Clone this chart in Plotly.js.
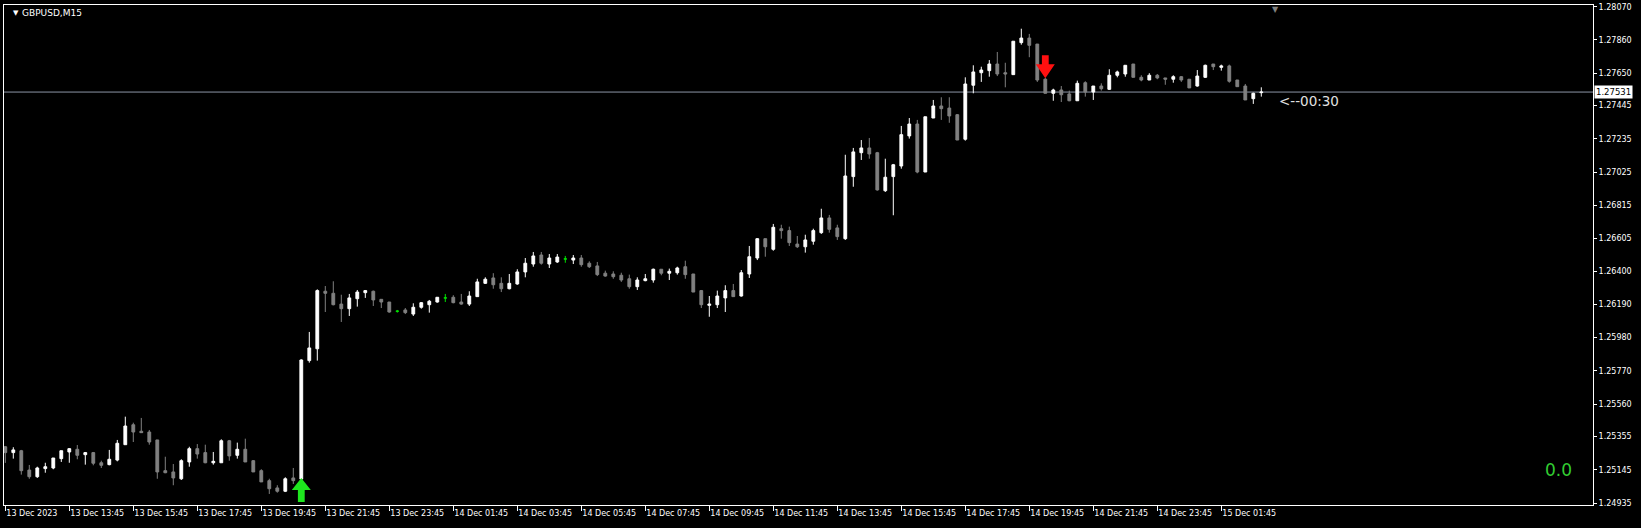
<!DOCTYPE html>
<html><head><meta charset="utf-8">
<script src="https://cdn.plot.ly/plotly-3.0.1.min.js"></script>
<style>html,body{margin:0;padding:0;background:#000;overflow:hidden}#chart{width:1641px;height:528px}</style>
</head><body><div id="chart"></div>
<script>
const symbolLabel = 'GBPUSD,M15';
const open = [
1.25291,1.25254,1.25266,1.25144,1.25102,1.25153,1.25157,1.25216,1.25258,1.25275,
1.25241,1.25254,1.25190,1.25178,1.25207,1.25304,1.25430,1.25389,1.25384,1.25334,
1.25140,1.25132,1.25089,1.25195,1.25279,1.25254,1.25190,1.25190,1.25329,1.25237,
1.25275,1.25203,1.25140,1.25077,1.25031,1.25010,1.25094,1.25087,1.25835,1.25910,
1.26273,1.26260,1.26192,1.26163,1.26226,1.26264,1.26273,1.26222,1.26205,1.26147,
1.26155,1.26129,1.26172,1.26188,1.26205,1.26231,1.26235,1.26205,1.26192,1.26239,
1.26323,1.26357,1.26323,1.26289,1.26319,1.26395,1.26445,1.26502,1.26445,1.26458,
1.26477,1.26470,1.26483,1.26450,1.26433,1.26387,1.26382,1.26374,1.26352,1.26302,
1.26340,1.26344,1.26412,1.26387,1.26390,1.26428,1.26382,1.26277,1.26184,1.26188,
1.26231,1.26277,1.26243,1.26382,1.26483,1.26605,1.26538,1.26668,1.26656,1.26571,
1.26554,1.26589,1.26643,1.26736,1.26673,1.26605,1.26997,1.27148,1.27178,1.27148,
1.26908,1.26997,1.27064,1.27254,1.27329,1.27026,1.27367,1.27443,1.27430,1.27388,
1.27233,1.27574,1.27653,1.27666,1.27708,1.27653,1.27641,1.27843,1.27872,1.27834,
1.27612,1.27523,1.27544,1.27519,1.27476,1.27590,1.27531,1.27569,1.27548,1.27637,
1.27645,1.27708,1.27624,1.27607,1.27637,1.27620,1.27612,1.27628,1.27612,1.27569,
1.27624,1.27708,1.27687,1.27696,1.27607,1.27569,1.27489,1.27527];
const high = [
1.25296,1.25288,1.25271,1.25176,1.25165,1.25190,1.25220,1.25266,1.25283,1.25302,
1.25258,1.25258,1.25203,1.25271,1.25334,1.25481,1.25443,1.25473,1.25397,1.25334,
1.25228,1.25182,1.25212,1.25291,1.25308,1.25304,1.25258,1.25338,1.25334,1.25317,
1.25342,1.25207,1.25149,1.25089,1.25048,1.25098,1.25157,1.25843,1.26016,1.26285,
1.26306,1.26336,1.26251,1.26256,1.26281,1.26281,1.26277,1.26222,1.26205,1.26155,
1.26167,1.26197,1.26205,1.26218,1.26235,1.26256,1.26248,1.26256,1.26273,1.26352,
1.26361,1.26387,1.26361,1.26382,1.26412,1.26483,1.26521,1.26521,1.26508,1.26508,
1.26496,1.26502,1.26502,1.26462,1.26458,1.26403,1.26399,1.26390,1.26378,1.26361,
1.26382,1.26416,1.26412,1.26416,1.26428,1.26466,1.26382,1.26281,1.26243,1.26277,
1.26311,1.26319,1.26407,1.26559,1.26609,1.26605,1.26698,1.26693,1.26681,1.26622,
1.26630,1.26668,1.26794,1.26755,1.26693,1.27135,1.27178,1.27228,1.27241,1.27153,
1.27110,1.27077,1.27317,1.27367,1.27355,1.27375,1.27481,1.27498,1.27498,1.27392,
1.27624,1.27700,1.27691,1.27733,1.27784,1.27716,1.27852,1.27931,1.27898,1.27834,
1.27620,1.27552,1.27569,1.27540,1.27603,1.27599,1.27569,1.27586,1.27675,1.27666,
1.27700,1.27708,1.27637,1.27650,1.27645,1.27620,1.27637,1.27632,1.27612,1.27670,
1.27704,1.27708,1.27704,1.27704,1.27607,1.27582,1.27527,1.27561];
const low = [
1.25189,1.25216,1.25115,1.25089,1.25094,1.25127,1.25149,1.25195,1.25190,1.25212,
1.25178,1.25174,1.25157,1.25174,1.25199,1.25304,1.25321,1.25380,1.25304,1.25089,
1.25124,1.25048,1.25081,1.25165,1.25216,1.25187,1.25178,1.25190,1.25203,1.25216,
1.25195,1.25132,1.25069,1.24993,1.25001,1.25005,1.25056,1.25075,1.25822,1.25835,
1.26142,1.26184,1.26079,1.26117,1.26176,1.26231,1.26180,1.26167,1.26138,1.26138,
1.26129,1.26117,1.26163,1.26138,1.26201,1.26205,1.26197,1.26188,1.26180,1.26239,
1.26319,1.26289,1.26268,1.26285,1.26314,1.26361,1.26428,1.26441,1.26420,1.26452,
1.26453,1.26445,1.26428,1.26420,1.26369,1.26365,1.26352,1.26332,1.26289,1.26281,
1.26336,1.26327,1.26374,1.26344,1.26378,1.26352,1.26268,1.26167,1.26112,1.26167,
1.26142,1.26239,1.26239,1.26357,1.26470,1.26491,1.26529,1.26605,1.26559,1.26546,
1.26517,1.26567,1.26635,1.26643,1.26597,1.26597,1.26933,1.27102,1.27110,1.26908,
1.26900,1.26753,1.27047,1.27237,1.27018,1.27026,1.27367,1.27355,1.27337,1.27271,
1.27224,1.27523,1.27595,1.27628,1.27632,1.27561,1.27641,1.27830,1.27751,1.27595,
1.27523,1.27476,1.27468,1.27473,1.27476,1.27502,1.27481,1.27540,1.27544,1.27624,
1.27628,1.27624,1.27599,1.27607,1.27612,1.27577,1.27590,1.27595,1.27557,1.27565,
1.27620,1.27670,1.27666,1.27590,1.27565,1.27481,1.27456,1.27502];
const close = [
1.25254,1.25271,1.25140,1.25102,1.25157,1.25165,1.25220,1.25266,1.25279,1.25237,
1.25254,1.25187,1.25174,1.25212,1.25313,1.25422,1.25384,1.25380,1.25321,1.25132,
1.25127,1.25094,1.25203,1.25279,1.25245,1.25190,1.25199,1.25329,1.25233,1.25275,
1.25195,1.25132,1.25069,1.25026,1.25010,1.25089,1.25077,1.25839,1.25915,1.26277,
1.26260,1.26188,1.26163,1.26231,1.26268,1.26277,1.26218,1.26205,1.26142,1.26147,
1.26138,1.26172,1.26201,1.26210,1.26235,1.26231,1.26201,1.26192,1.26243,1.26332,
1.26349,1.26314,1.26289,1.26323,1.26395,1.26450,1.26496,1.26450,1.26483,1.26489,
1.26477,1.26483,1.26441,1.26428,1.26378,1.26369,1.26365,1.26344,1.26302,1.26344,
1.26352,1.26412,1.26387,1.26399,1.26420,1.26378,1.26268,1.26188,1.26192,1.26243,
1.26277,1.26239,1.26390,1.26491,1.26605,1.26554,1.26677,1.26656,1.26580,1.26554,
1.26597,1.26656,1.26736,1.26664,1.26618,1.27001,1.27153,1.27178,1.27140,1.26913,
1.26993,1.27072,1.27262,1.27329,1.27026,1.27375,1.27443,1.27426,1.27380,1.27228,
1.27582,1.27658,1.27670,1.27708,1.27645,1.27645,1.27852,1.27872,1.27826,1.27607,
1.27523,1.27544,1.27514,1.27476,1.27586,1.27531,1.27569,1.27552,1.27637,1.27658,
1.27700,1.27624,1.27607,1.27637,1.27620,1.27612,1.27628,1.27607,1.27557,1.27632,
1.27700,1.27691,1.27696,1.27599,1.27565,1.27481,1.27523,1.27531];
const tickIdx = [0,8,16,24,32,40,48,56,64,72,80,88,96,104,112,120,128,136,144,152];
const tickLabels = ['13 Dec 2023','13 Dec 13:45','13 Dec 15:45','13 Dec 17:45','13 Dec 19:45',
'13 Dec 21:45','13 Dec 23:45','14 Dec 01:45','14 Dec 03:45','14 Dec 05:45','14 Dec 07:45',
'14 Dec 09:45','14 Dec 11:45','14 Dec 13:45','14 Dec 15:45','14 Dec 17:45','14 Dec 19:45',
'14 Dec 21:45','14 Dec 23:45','15 Dec 01:45'];
const priceTicks = [1.28070,1.27860,1.27650,1.27445,1.27235,1.27025,1.26815,1.26605,
1.26400,1.26190,1.25980,1.25770,1.25560,1.25355,1.25145,1.24935];
const buyIdx = [37], buyPrice = [1.25094];
const sellIdx = [130], sellPrice = [1.27618];
const timerText = '<--00:30';
const spreadText = '0.0';

const idx = open.map((_, i) => i);
const doji = idx.filter(i => open[i] === close[i]);
const body = idx.filter(i => open[i] !== close[i]);
const pick = (arr, ids) => ids.map(i => arr[i]);
const last = close.length - 1;

const traces = [
  {type:'candlestick', x: body, open: pick(open, body), high: pick(high, body), low: pick(low, body), close: pick(close, body),
   increasing:{line:{color:'#ffffff', width:1}, fillcolor:'#ffffff'},
   decreasing:{line:{color:'#808080', width:1}, fillcolor:'#808080'},
   whiskerwidth:0, hoverinfo:'skip', showlegend:false},
  {type:'candlestick', x: doji, open: pick(open, doji), high: pick(high, doji), low: pick(low, doji), close: pick(close, doji),
   increasing:{line:{color:'#00e000', width:1}, fillcolor:'#00e000'},
   decreasing:{line:{color:'#00e000', width:1}, fillcolor:'#00e000'},
   whiskerwidth:0, hoverinfo:'skip', showlegend:false}
];

const upPath = 'M0,0 L9.5,-12 L3.4,-12 L3.4,-24 L-3.4,-24 L-3.4,-12 L-9.5,-12 Z';
const downPath = 'M0,0 L9.5,14 L3.4,14 L3.4,23 L-3.4,23 L-3.4,14 L-9.5,14 Z';
const shapes = [
  {type:'line', xref:'paper', x0:0, x1:1, yref:'y', y0: close[last], y1: close[last], line:{color:'#8c96a6', width:1}, layer:'below'}
];
buyIdx.forEach((b, k) => shapes.push({type:'path', xref:'x', yref:'y', xsizemode:'pixel', ysizemode:'pixel',
  xanchor: b, yanchor: buyPrice[k], path: upPath, fillcolor:'#1ee61e', line:{width:0}}));
sellIdx.forEach((s, k) => shapes.push({type:'path', xref:'x', yref:'y', xsizemode:'pixel', ysizemode:'pixel',
  xanchor: s, yanchor: sellPrice[k], path: downPath, fillcolor:'#ff1010', line:{width:0}}));

const font = 'DejaVu Sans, Verdana, sans-serif';
const annotations = [
  {xref:'paper', yref:'paper', x:0.0042, y:0.984, xanchor:'left', yanchor:'middle', text:'▼', showarrow:false, font:{family:font, size:7, color:'#ffffff'}},
  {xref:'paper', yref:'paper', x:0.0098, y:0.984, xanchor:'left', yanchor:'middle', text:symbolLabel, showarrow:false, font:{family:font, size:9, color:'#ffffff'}},
  {xref:'paper', yref:'y', x:1, y: close[last], xanchor:'left', yanchor:'middle', xshift:1, text: close[last].toFixed(5), showarrow:false,
   bgcolor:'#ffffff', borderpad:1, font:{family:font, size:8.5, color:'#000000'}},
  {xref:'x', yref:'y', x: last + 2, y: close[last], xanchor:'left', yanchor:'middle', yshift:-8.5, text: timerText.replace('<','&lt;'), showarrow:false,
   font:{family:font, size:13.5, color:'#e0e0e0'}},
  {xref:'paper', yref:'paper', x:0.9783, y:0.0706, xanchor:'center', yanchor:'middle', text: spreadText, showarrow:false,
   font:{family:font, size:17, color:'#32cd32'}},
  {xref:'paper', yref:'paper', x:0.8, y:1, xanchor:'center', yanchor:'top', yshift:2, text:'▼', showarrow:false, font:{family:font, size:8, color:'#808080'}}
];

const layout = {
  width:1641, height:528,
  margin:{l:4, r:48, t:5, b:23, pad:0},
  paper_bgcolor:'#000000', plot_bgcolor:'#000000',
  showlegend:false, boxgap:0.5, hovermode:false,
  xaxis:{range:[-0.1625, 198.4625], rangeslider:{visible:false}, showgrid:false, zeroline:false,
    showline:true, mirror:true, linecolor:'#ffffff', linewidth:1,
    ticks:'outside', ticklen:5, tickcolor:'#ffffff', tickwidth:1,
    tickmode:'array', tickvals: tickIdx, ticktext: tickLabels, ticklabelposition:'outside right',
    tickfont:{family:font, size:8, color:'#ffffff'}, fixedrange:true},
  yaxis:{range:[1.249232, 1.280807], side:'right', showgrid:false, zeroline:false,
    showline:true, mirror:true, linecolor:'#ffffff', linewidth:1,
    ticks:'outside', ticklen:3, tickcolor:'#ffffff', tickwidth:1,
    tickmode:'array', tickvals: priceTicks, ticktext: priceTicks.map(v => v.toFixed(5)),
    tickfont:{family:font, size:8, color:'#ffffff'}, fixedrange:true},
  shapes, annotations
};
Plotly.newPlot('chart', traces, layout, {staticPlot:true, displayModeBar:false});
</script></body></html>
